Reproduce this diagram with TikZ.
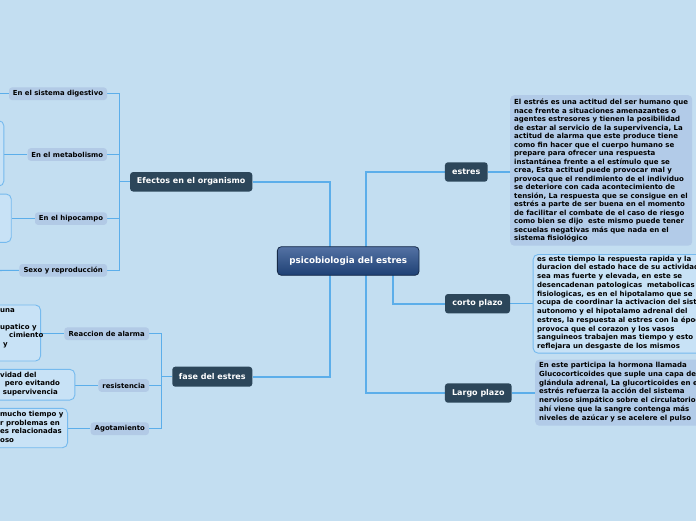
\documentclass[tikz,border=0pt]{standalone}
\usepackage{fontspec}
\setmainfont{DejaVu Sans}
\usetikzlibrary{backgrounds}
\definecolor{bgc}{RGB}{195,222,241}
\definecolor{topicc}{RGB}{44,70,90}
\definecolor{connc}{RGB}{92,174,234}
\definecolor{subc}{RGB}{178,202,230}
\definecolor{dborder}{RGB}{118,186,238}
\definecolor{dfill}{RGB}{200,226,246}
\definecolor{efill}{RGB}{178,203,232}
\definecolor{ctop}{RGB}{84,114,164}
\definecolor{cbot}{RGB}{30,64,116}
\definecolor{cdraw}{RGB}{22,42,72}
\begin{document}
\begin{tikzpicture}[x=1pt,y=-1pt,
  central/.style={rounded corners=4pt, top color=ctop, bottom color=cbot, draw=cdraw, line width=0.8pt,
    text=white, font=\bfseries\fontsize{8.8}{10}\selectfont, minimum width=141.7pt, minimum height=28.6pt, inner sep=0pt},
  topic/.style={rounded corners=3pt, fill=topicc, text=white, font=\bfseries\fontsize{8}{9.5}\selectfont,
    minimum height=19.4pt, inner sep=0pt},
  sub/.style={rounded corners=3pt, fill=subc, text=black, font=\bfseries\fontsize{6.9}{8}\selectfont,
    minimum height=12.6pt, inner sep=0pt},
  dbox/.style={rounded corners=5pt, fill=dfill, draw=dborder, line width=0.9pt, inner sep=0pt},
  ebox/.style={rounded corners=4pt, fill=efill, inner sep=0pt},
  txt/.style={align=left, inner sep=0pt, text=black, font=\bfseries\fontsize{7}{8.5}\selectfont},
  conn/.style={draw=connc, line width=1.6pt},
  sconn/.style={draw=connc, line width=1.1pt}
]
\useasboundingbox (0,0) rectangle (696,520);
\clip (0,0) rectangle (696,520);

% central and topics
\node[central] (C) at (348.2,261) {psicobiologia del estres};
\node[topic, minimum width=122.3pt] (efe) at (191.2,181.8) {Efectos en el organismo};
\node[topic, minimum width=80pt, minimum height=20pt] (fase) at (212.3,376.7) {fase del estres};
\node[topic, minimum width=42.7pt] (estres) at (466.3,172) {estres};
\node[topic, minimum width=65pt] (corto) at (477.5,303.7) {corto plazo};
\node[topic, minimum width=66.7pt] (largo) at (478.3,393) {Largo plazo};

% subtopics left
\node[sub, minimum width=98pt] (dig) at (58,93.7) {En el sistema digestivo};
\node[sub, minimum width=79.3pt] (met) at (67.3,154.5) {En el metabolismo};
\node[sub, minimum width=72pt] (hip) at (71,218.6) {En el hipocampo};
\node[sub, minimum width=87.7pt] (sexo) at (63.2,270.3) {Sexo y reproducción};
\node[sub, minimum width=84.7pt] (alarma) at (106.7,333.7) {Reaccion de alarma};
\node[sub, minimum width=50.7pt] (resis) at (123.7,385.5) {resistencia};
\node[sub, minimum width=58.3pt] (agot) at (119.8,428.7) {Agotamiento};

% detail boxes left (cut by the picture edge)
\node[dbox, anchor=east, minimum width=60pt, minimum height=65.3pt] (metbox) at (4.3,153.4) {};
\node[dbox, anchor=east, minimum width=60pt, minimum height=48.3pt] (hipbox) at (11.7,218.2) {};
\node[dbox, anchor=east, minimum width=80pt, minimum height=56pt] (alabox) at (41,333) {};
\node[dbox, anchor=east, minimum width=100pt, minimum height=30.7pt] (resbox) at (75.3,384.7) {};
\node[dbox, anchor=east, minimum width=100pt, minimum height=39.4pt] (agobox) at (68,428) {};

\node[txt, anchor=north west, font=\bfseries\fontsize{7}{8.4}\selectfont] (alaT) at (0,308.3)
  {una\\ \mbox{}\\ upatico y\\ \hspace*{9pt}cimiento\\ \hspace*{3pt}y};
\node[txt, anchor=north west, font=\bfseries\fontsize{7}{8.3}\selectfont] (resT) at (0,372)
  {vidad del\\ \hspace*{4.7pt}pero evitando\\ \hspace*{2.7pt}supervivencia};
\node[txt, anchor=north west, font=\bfseries\fontsize{7}{8.4}\selectfont] (agoT) at (0,411.3)
  {mucho tiempo y\\ r problemas en\\ es relacionadas\\ oso};

% detail boxes right
\node[ebox, anchor=north west, minimum width=182pt, minimum height=150.5pt] (estbox) at (510,95) {};
\node[dbox, anchor=north west, minimum width=200pt, minimum height=98.7pt] (cortobox) at (532.7,254) {};
\node[ebox, anchor=north west, minimum width=200pt, minimum height=66pt] (largobox) at (535,359.5) {};

\node[txt, anchor=north west] (estT) at (514,98.8) {El estrés es una actitud del ser humano que\\
nace frente a situaciones amenazantes o\\
agentes estresores y tienen la posibilidad\\
de estar al servicio de la supervivencia, La\\
actitud de alarma que este produce tiene\\
como fin hacer que el cuerpo humano se\\
prepare para ofrecer una respuesta\\
instantánea frente a el estímulo que se\\
crea, Esta actitud puede provocar mal y\\
provoca que el rendimiento de el individuo\\
se deteriore con cada acontecimiento de\\
tensión, La respuesta que se consigue en el\\
estrés a parte de ser buena en el momento\\
de facilitar el combate de el caso de riesgo\\
como bien se dijo\ \ este mismo puede tener\\
secuelas negativas más que nada en el\\
sistema fisiológico};

\node[txt, anchor=north west, font=\bfseries\fontsize{7}{8.75}\selectfont] (cortoT) at (537,255.5) {es este tiempo la respuesta rapida y la\\
duracion del estado hace de su actividad\\
sea mas fuerte y elevada, en este se\\
desencadenan patologicas\ \ metabolicas\\
fisiologicas, es en el hipotalamo que se\\
ocupa de coordinar la activacion del sist\\
autonomo y el hipotalamo adrenal del\\
estres, la respuesta al estres con la époc\\
provoca que el corazon y los vasos\\
sanguineos trabajen mas tiempo y esto\\
reflejara un desgaste de los mismos};

\node[txt, anchor=north west, font=\bfseries\fontsize{7}{8.7}\selectfont] (largoT) at (539,362.3) {En este participa la hormona llamada\\
Glucocorticoides que suple una capa de\\
glándula adrenal, La glucorticoides en e\\
estrés refuerza la acción del sistema\\
nervioso simpático sobre el circulatorio.\\
ahí viene que la sangre contenga más\\
niveles de azúcar y se acelere el pulso};

% connectors
\coordinate (Lt) at (330,261);
\coordinate (Rt) at (366,261);
\coordinate (Ct) at (392.7,275);
\coordinate (Lb) at (119.5,181.8);
\coordinate (Fb) at (161.7,376.7);
\coordinate (digL) at (-5,93.7);
\coordinate (sexoL) at (-5,270.5);
\begin{scope}[on background layer]
\fill[bgc] (-10,-10) rectangle (706,530);
\draw[conn] (efe.east) -| (Lt);
\draw[conn] (fase.east) -| (Lt);
\draw[conn] (estres.west) -| (Rt);
\draw[conn] (largo.west) -| (Rt);
\draw[conn] (corto.west) -| (Ct);
\draw[sconn] (efe.west) -- (Lb);
\draw[sconn] (dig.east) -| (Lb);
\draw[sconn] (met.east) -| (Lb);
\draw[sconn] (hip.east) -| (Lb);
\draw[sconn] (sexo.east) -| (Lb);
\draw[sconn] (fase.west) -- (Fb);
\draw[sconn] (alarma.east) -| (Fb);
\draw[sconn] (resis.east) -| (Fb);
\draw[sconn] (agot.east) -| (Fb);
\draw[sconn] (dig.west) -- (digL);
\draw[sconn] (sexo.west) -- (sexoL);
\draw[sconn] (met.west) -- (met.west -| metbox.east);
\draw[sconn] (hip.west) -- (hip.west -| hipbox.east);
\draw[sconn] (alarma.west) -- (alarma.west -| alabox.east);
\draw[sconn] (resis.west) -- (resis.west -| resbox.east);
\draw[sconn] (agot.west) -- (agot.west -| agobox.east);
\draw[sconn] (estres.east) -- (estres.east -| estbox.west);
\draw[sconn] (corto.east) -- (corto.east -| cortobox.west);
\draw[sconn] (largo.east) -- (largo.east -| largobox.west);
\end{scope}
\end{tikzpicture}
\end{document}
